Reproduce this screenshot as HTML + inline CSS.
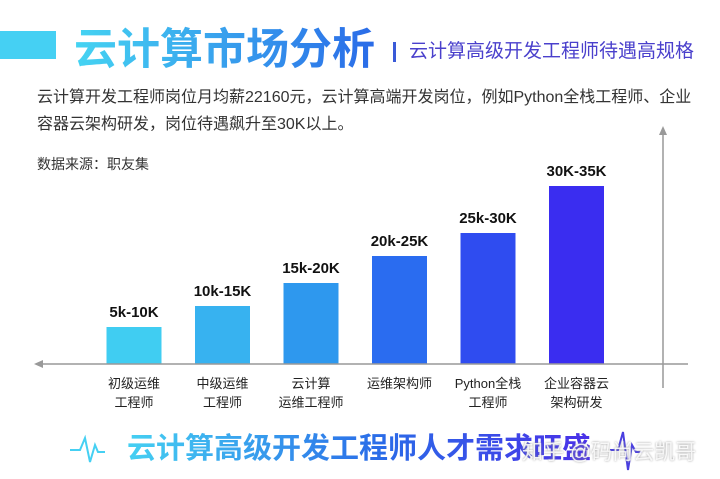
<!DOCTYPE html>
<html><head><meta charset="utf-8"><style>
body{margin:0;width:720px;height:479px;background:#fff;overflow:hidden;position:relative;font-family:"Liberation Sans","Noto Sans CJK SC",sans-serif}
.a{position:absolute;white-space:nowrap}
</style></head><body>
<div class="a" style="left:0;top:31px;width:56px;height:28px;background:#45d0f3"></div>
<div class="a" style="left:74px;top:20px;font-size:43px;font-weight:bold;background:linear-gradient(90deg,#45d4f2,#2a6be8);-webkit-background-clip:text;color:transparent;line-height:60px">云计算市场分析</div>
<div class="a" style="left:393px;top:42px;width:3px;height:20px;background:#3a5ad8"></div>
<div class="a" style="left:409px;top:39px;font-size:19px;color:#4a40cc;line-height:26px">云计算高级开发工程师待遇高规格</div>
<div class="a" style="left:37px;top:84px;font-size:16px;color:#333;line-height:27px">云计算开发工程师岗位月均薪22160元，云计算高端开发岗位，例如Python全栈工程师、企业<br>容器云架构研发，岗位待遇飙升至30K以上。</div>
<div class="a" style="left:37px;top:154px;font-size:14px;color:#333">数据来源：职友集</div>
<svg class="a" style="left:0;top:0" width="720" height="479">
<g id="bars"></g>
<line x1="40" y1="364" x2="688" y2="364" stroke="#999" stroke-width="1.5"/>
<polygon points="34,364 43,360 43,368" fill="#999"/>
<line x1="663" y1="134" x2="663" y2="388" stroke="#999" stroke-width="1.5"/>
<polygon points="663,126 659,135 667,135" fill="#999"/>
<polyline points="70,450 80,450 85,438 90,462 95,445 98,452 105,452" fill="none" stroke="#45d0f3" stroke-width="2"/>
<polyline points="610,450 618,450 623,432 628,470 632,445 636,452 642,452" fill="none" stroke="#4a3fe0" stroke-width="2"/>
</svg>
<div class="a" style="left:127px;top:429px;font-size:29px;font-weight:bold;background:linear-gradient(90deg,#45d0f2,#2a6be8 55%,#4a30e8);-webkit-background-clip:text;color:transparent;line-height:40px">云计算高级开发工程师人才需求旺盛</div>
<div class="a" style="left:522px;top:436px;font-size:21px;color:rgba(255,255,255,0.85);text-shadow:0 0 2px #999">知乎 @码尚云凯哥</div>
<script>
const categories=[["初级运维","工程师"],["中级运维","工程师"],["云计算","运维工程师"],["运维架构师",""],["Python全栈","工程师"],["企业容器云","架构研发"]];
const valueLabels=["5k-10K","10k-15K","15k-20K","20k-25K","25k-30K","30K-35K"];
const values=[37,58,81,108,131,178];
const colors=["#40cdf2","#37b2f0","#2e98ee","#2a6cf0","#2f4cf0","#3a2df0"];
const ns="http://www.w3.org/2000/svg";
const g=document.getElementById('bars');
const x=i=>134+i*88.5, y=v=>364-v, bw=55;
values.forEach((v,i)=>{
 const r=document.createElementNS(ns,'rect');
 r.setAttribute('x',x(i)-bw/2);r.setAttribute('y',y(v));r.setAttribute('width',bw);r.setAttribute('height',v);r.setAttribute('fill',colors[i]);
 
 
 g.appendChild(r);
 const t=document.createElementNS(ns,'text');
 t.setAttribute('x',x(i));t.setAttribute('y',y(v)-10);t.setAttribute('text-anchor','middle');t.setAttribute('font-size','15');t.setAttribute('font-weight','bold');t.setAttribute('fill','#111');
 t.textContent=valueLabels[i];
 
 
 g.appendChild(t);
 categories[i].forEach((s,j)=>{
  const c=document.createElementNS(ns,'text');
  c.setAttribute('x',x(i));c.setAttribute('y',388+j*19);c.setAttribute('text-anchor','middle');c.setAttribute('font-size','13');c.setAttribute('fill','#222');
  c.textContent=s;
  
  
  g.appendChild(c);
 });
});
</script>
</body></html>
